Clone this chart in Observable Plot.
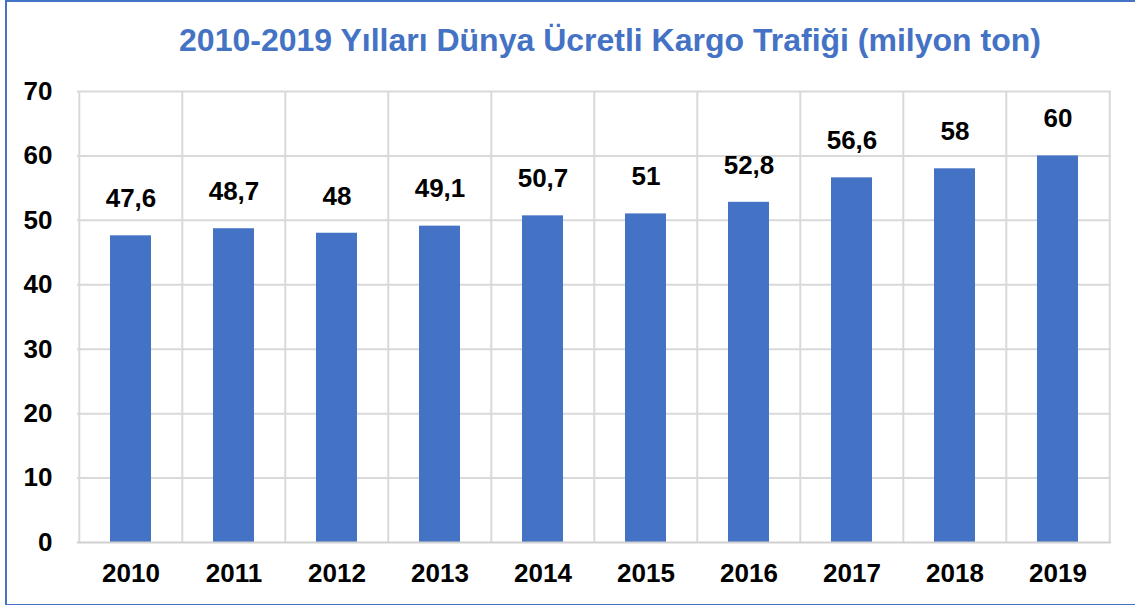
<!DOCTYPE html>
<html>
<head>
<meta charset="utf-8">
<script src="https://cdn.jsdelivr.net/npm/d3@7"></script>
<script src="https://cdn.jsdelivr.net/npm/@observablehq/plot@0.6"></script>
<style>
  html, body { margin: 0; padding: 0; background: #fff; }
  #wrap { position: relative; width: 1135px; height: 605px; overflow: hidden; background: #fff; }
  #frame { position: absolute; left: 5px; top: 0; width: 1140px; height: 602px; border: 2px solid #4472C4; border-right: none; box-sizing: content-box; pointer-events: none; }
  #title { position: absolute; left: 0; top: 22px; width: 1220px; text-align: center; font-family: "Liberation Sans", Arial, sans-serif; font-weight: bold; font-size: 32px; color: #4472C4; white-space: nowrap; }
  #chart { position: absolute; left: 0; top: 0; }
</style>
</head>
<body>
<div id="wrap">
  <div id="chart"></div>
  <div id="title">2010-2019 Yılları Dünya Ücretli Kargo Trafiği (milyon ton)</div>
  <div id="frame"></div>
</div>
<script>
const years = ["2010","2011","2012","2013","2014","2015","2016","2017","2018","2019"];
const values = [47.6, 48.7, 48, 49.1, 50.7, 51, 52.8, 56.6, 58, 60];
const labels = ["47,6","48,7","48","49,1","50,7","51","52,8","56,6","58","60"];
const yTicks = [0,10,20,30,40,50,60,70];

const data = years.map((y, i) => ({year: y, value: values[i], label: labels[i]}));

const font = "Liberation Sans, Arial, sans-serif";
const step = (1135 - 77 - 24) / years.length;

const plot = Plot.plot({
  width: 1135,
  height: 605,
  marginLeft: 77,
  marginRight: 24,
  marginTop: 91,
  marginBottom: 63,
  style: { fontFamily: font, background: "transparent", overflow: "visible" },
  x: { domain: years, paddingInner: 0.6, paddingOuter: 0.3, label: null, axis: null },
  y: { domain: [0, 70], label: null, axis: null },
  marks: [
    Plot.ruleY(yTicks.filter(t => t > 0), { stroke: "#d9d9d9", strokeWidth: 2 }),
    Plot.tickX(years, { x: d => d, dx: -step / 2, stroke: "#d9d9d9", strokeWidth: 2 }),
    Plot.tickX([years[years.length - 1]], { x: d => d, dx: step / 2, stroke: "#d9d9d9", strokeWidth: 2 }),
    Plot.barY(data, { x: "year", y: "value", fill: "#4472C4" }),
    Plot.ruleY([0], { stroke: "#d0d0d0", strokeWidth: 2 }),
    Plot.text(data, { x: "year", y: "value", text: "label", dy: -37, fontSize: 26, fontWeight: "bold", fill: "#000" }),
    Plot.axisY(yTicks, { tickSize: 0, tickPadding: 25, fontSize: 26, fontWeight: "bold", fill: "#000", label: null }),
    Plot.axisX(years, { tickSize: 0, tickPadding: 21, fontSize: 26, fontWeight: "bold", fill: "#000", label: null })
  ]
});
document.getElementById("chart").appendChild(plot);
</script>
</body>
</html>
